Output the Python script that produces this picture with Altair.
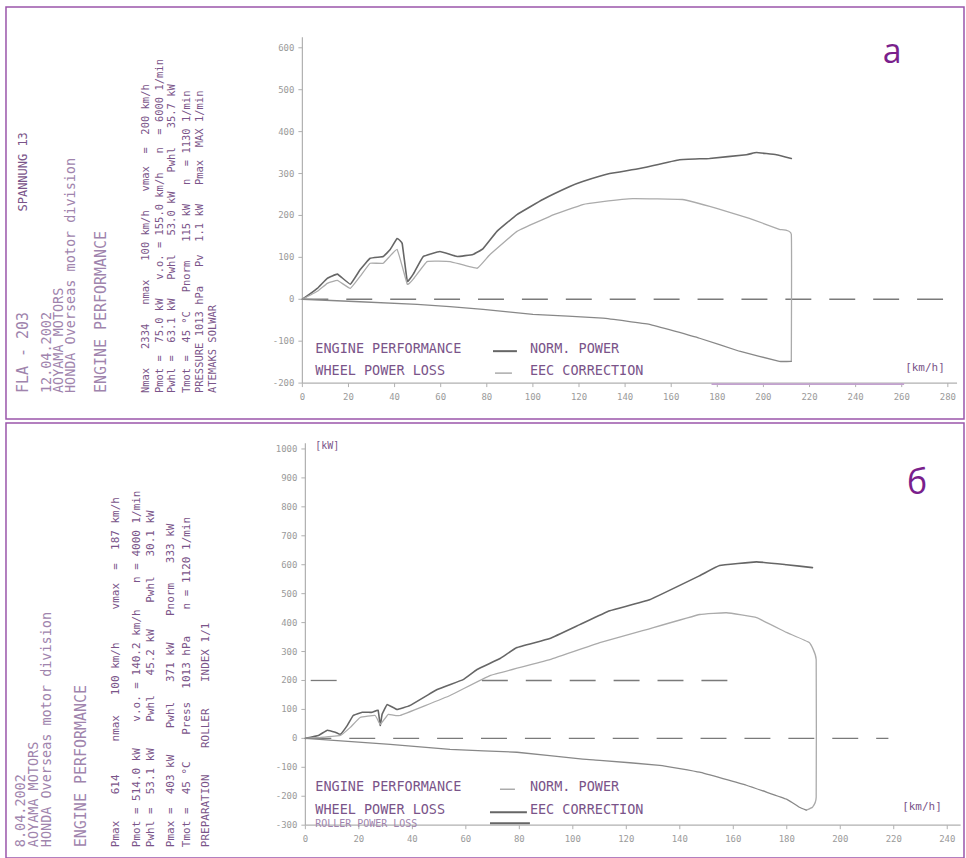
import altair as alt
import pandas as pd

# ================= DATA =================
# panel "а" (top)  -- x: speed [km/h], y: power
A_ENGINE_X = [0, 6.5, 10.8, 15.2, 20.8, 25.1, 29.4, 35.1, 38.1, 41.1, 43.3, 45.5, 48.1, 52.4, 59.7, 67.1,
              74.0, 78.4, 84.4, 93.1, 104.3, 116.0, 121.6, 133.3, 146.3, 163.6, 176.6, 192.6, 197.0, 205.6, 212.1]
A_ENGINE_Y = [0, 26, 50, 60, 36, 71, 98, 102, 119, 145, 133, 43, 60, 102, 114, 102,
              107, 121, 162, 202, 238, 269, 281, 300, 312, 333, 336, 345, 350, 345, 336]
A_WHEEL_X = [0, 6.5, 10.8, 15.2, 20.8, 25.1, 29.4, 35.1, 41.1, 45.5, 48.1, 54.1, 64.1, 75.8, 81.4, 93.1,
             107.4, 121.6, 130.3, 143.3, 164.9, 179.7, 193.9, 206.9, 212.1, 212.1]
A_WHEEL_Y = [0, 19, 38, 45, 26, 55, 86, 86, 119, 36, 48, 90, 90, 74, 107, 162,
             198, 226, 233, 240, 238, 217, 193, 167, 155, -148]
A_LOSS_X = [0, 49.8, 78.4, 100.0, 130.3, 150.6, 172.3, 189.6, 206.9, 212.1]
A_LOSS_Y = [0, -12, -24, -36, -45, -60, -93, -124, -148, -148]
A_REF_FROM = [0]
A_REF_TO = [280]
A_REF_LEVEL = [0]
A_X_TICKS = list(range(0, 281, 20))
A_Y_TICKS = list(range(-200, 601, 100))

# panel "б" (bottom)
B_ENGINE_X = [0, 4.9, 8.2, 11.2, 13.1, 15.7, 17.9, 21.3, 25.0, 27.2, 28.0, 28.7, 30.6, 34.3, 39.2,
              49.3, 59.0, 64.2, 72.8, 79.1, 91.4, 102.6, 113.8, 128.7, 147.4, 154.9, 168.7, 179.9, 189.6]
B_ENGINE_Y = [0, 10, 28, 21, 14, 45, 79, 90, 90, 97, 45, 83, 117, 100, 114,
              169, 203, 238, 276, 314, 345, 393, 441, 479, 562, 597, 610, 600, 590]
B_WHEEL_X = [0, 5.6, 13.1, 16.8, 20.5, 26.1, 28.0, 31.0, 35.4, 54.1, 69.0, 91.4, 110.1, 126.1,
             147.4, 157.5, 168.7, 179.9, 188.4, 191.0, 191.0, 189.6, 187.3]
B_WHEEL_Y = [0, 3, 10, 38, 72, 79, 48, 83, 79, 148, 217, 272, 331, 372,
             428, 434, 417, 366, 331, 272, -203, -238, -248]
B_LOSS_X = [0, 31.7, 54.1, 79.1, 103.7, 110.1, 132.5, 147.4, 164.9, 179.9, 184.7, 187.3]
B_LOSS_Y = [0, -21, -38, -48, -72, -76, -93, -117, -162, -210, -238, -248]
B_REF_FROM = [0, 2, 66]
B_REF_TO = [218, 14, 158]
B_REF_LEVEL = [0, 200, 200]
B_X_TICKS = list(range(0, 241, 20))
B_Y_TICKS = list(range(-300, 1001, 100))

# texts of the printouts
A_HEADER = ["FLA - 203", "SPANNUNG 13", "12.04.2002", "AOYAMA MOTORS",
            "HONDA Overseas motor division", "ENGINE PERFORMANCE"]
A_TABLE = ["Nmax   2334   nmax   100 km/h   vmax  =  200 km/h",
           "Pmot =  75.0 kW   v.o. = 155.0 km/h   n  = 6000 1/min",
           "Pwhl =  63.1 kW   Pwhl   53.0 kW   Pwhl   35.7 kW",
           "Tmot =  45 °C   Pnorm   115 kW   n  = 1130 1/min",
           "PRESSURE 1013 hPa   Pv  1.1 kW   Pmax  MAX 1/min",
           "ATEMAKS SOLWAR"]
B_HEADER = ["8.04.2002", "AOYAMA MOTORS", "HONDA Overseas motor division", "ENGINE PERFORMANCE"]
B_TABLE = ["Pmax    614     nmax   100 km/h     vmax  =  187 km/h",
           "Pmot = 514.0 kW    v.o. = 140.2 km/h    n = 4000 1/min",
           "Pwhl =  53.1 kW    Pwhl   45.2 kW    Pwhl   30.1 kW",
           "Pmax =  403 kW    Pwhl   371 kW    Pnorm   333 kW",
           "Tmot =  45 °C    Press  1013 hPa    n = 1120 1/min",
           "PREPARATION    ROLLER    INDEX 1/1"]
LEGEND_LEFT = ["ENGINE PERFORMANCE", "WHEEL POWER LOSS", "ROLLER POWER LOSS"]
LEGEND_RIGHT = ["NORM. POWER", "EEC CORRECTION"]
UNIT_X = "[km/h]"
UNIT_Y = "[kW]"
PANEL_LABELS = ["а", "б"]

# ================= STYLE / LAYOUT =================
PURPLE = "#9a55aa"
PURPLE_LIGHT = "#c3a2cf"
TEXT_LIGHT = "#a084ad"
TEXT_DARK = "#7a5489"
C_ENGINE = "#666666"
C_WHEEL = "#ababab"
C_LOSS = "#888888"
C_DASH = "#7a7a7a"
C_AXIS = "#b0b0b0"
C_TICKLABEL = "#9a9a9a"
MONO = "DejaVu Sans Mono"
NBSP = "\u00a0"

W = 960
LEFT = 5

PANELS = {
    "A": dict(top=5, h=413, axis_px=302, zero_py=298, ppx=2.31, ppy=0.42, x_axis_val=-200,
              y_axis_top=625, x_axis_end=284, table_size=10.5,
              engine=(A_ENGINE_X, A_ENGINE_Y), wheel=(A_WHEEL_X, A_WHEEL_Y), loss=(A_LOSS_X, A_LOSS_Y),
              ref=(A_REF_FROM, A_REF_TO, A_REF_LEVEL), xt=A_X_TICKS, yt=A_Y_TICKS),
    "B": dict(top=420, h=436, axis_px=305, zero_py=736, ppx=2.68, ppy=0.29, x_axis_val=-300,
              y_axis_top=1020, x_axis_end=245, table_size=11,
              engine=(B_ENGINE_X, B_ENGINE_Y), wheel=(B_WHEEL_X, B_WHEEL_Y), loss=(B_LOSS_X, B_LOSS_Y),
              ref=(B_REF_FROM, B_REF_TO, B_REF_LEVEL), xt=B_X_TICKS, yt=B_Y_TICKS),
}

# annotation placement (absolute page pixels)
A_ROT = [(22, 392, 0, 15, TEXT_LIGHT), (22, 210, 1, 12, TEXT_DARK), (46, 392, 2, 13.5, TEXT_LIGHT),
         (58, 392, 3, 13.5, TEXT_LIGHT), (70, 392, 4, 13.5, TEXT_LIGHT), (100, 392, 5, 15, TEXT_LIGHT)]
A_TAB_X = [145, 159, 171, 186, 199, 212]
A_TAB_Y = 392
B_ROT = [(20, 845, 0, 13.5, TEXT_LIGHT), (33, 845, 1, 13.5, TEXT_LIGHT),
         (46, 845, 2, 13.5, TEXT_LIGHT), (80, 845, 3, 15, TEXT_LIGHT)]
B_TAB_X = [115, 136, 150, 170, 186, 205]
B_TAB_Y = 845


def flat_rows(panel):
    if panel == "A":
        return [(315, 348, LEGEND_LEFT[0], 13.5, TEXT_DARK), (530, 348, LEGEND_RIGHT[0], 13.5, TEXT_DARK),
                (315, 370, LEGEND_LEFT[1], 13.5, TEXT_DARK), (530, 370, LEGEND_RIGHT[1], 13.5, TEXT_DARK),
                (906, 367, UNIT_X, 11, TEXT_DARK)]
    return [(315, 785, LEGEND_LEFT[0], 13.5, TEXT_DARK), (530, 785, LEGEND_RIGHT[0], 13.5, TEXT_DARK),
            (315, 808, LEGEND_LEFT[1], 13.5, TEXT_DARK), (530, 808, LEGEND_RIGHT[1], 13.5, TEXT_DARK),
            (315, 822, LEGEND_LEFT[2], 10, TEXT_LIGHT), (903, 805, UNIT_X, 11, TEXT_DARK),
            (315, 443, UNIT_Y, 10, TEXT_DARK)]


def swatch_rows(panel):
    if panel == "A":
        return [(493, 517, 350, C_ENGINE, 2.0), (495, 512, 372, C_WHEEL, 1.5), (712, 905, 383, PURPLE_LIGHT, 1.6)]
    return [(500, 515, 787, C_WHEEL, 1.5), (490, 527, 810, C_ENGINE, 2.0), (490, 530, 821, C_ENGINE, 2.0)]


LABEL_POS = {"A": (893, 61), "B": (918, 491)}


def keep_spaces(s):
    return s.replace(" ", NBSP)


def build_panel(key):
    p = PANELS[key]
    top, h = p["top"], p["h"]

    def ux(ax):
        return (ax - p["axis_px"]) / p["ppx"]

    def uy(ay):
        return (p["zero_py"] - ay) / p["ppy"]

    xs = alt.Scale(domain=[ux(LEFT), ux(LEFT + W)], nice=False, zero=False)
    ys = alt.Scale(domain=[uy(top + h), uy(top)], nice=False, zero=False)
    X = lambda f: alt.X(f, scale=xs, axis=None)
    Y = lambda f: alt.Y(f, scale=ys, axis=None)

    # ---------- curves ----------
    rows = []
    for name, (xv, yv), col, sw in [("engine", p["engine"], C_ENGINE, 1.6),
                                    ("wheel", p["wheel"], C_WHEEL, 1.3),
                                    ("loss", p["loss"], C_LOSS, 1.3)]:
        for i, (a, b) in enumerate(zip(xv, yv)):
            rows.append(dict(x=a, y=b, series=name, ord=i, col=col, sw=sw))
    df = pd.DataFrame(rows)
    lines = alt.Chart(df).mark_line(strokeJoin="round", strokeCap="round",
                                    interpolate="cardinal", tension=0.75).encode(
        x=X("x:Q"), y=Y("y:Q"), detail="series:N", order="ord:Q",
        color=alt.Color("col:N", scale=None), strokeWidth=alt.StrokeWidth("sw:Q", scale=None))

    # ---------- axes (lines, ticks and labels from the tick lists) ----------
    xa = p["x_axis_val"]
    axis_abs_y = p["zero_py"] - xa * p["ppy"]
    axes_df = pd.DataFrame(dict(x=[0, 0], x2=[0, p["x_axis_end"]],
                                y=[xa, xa], y2=[p["y_axis_top"], xa]))
    axes_rules = alt.Chart(axes_df).mark_rule(color=C_AXIS, strokeWidth=1.2).encode(
        x=X("x:Q"), x2="x2:Q", y=Y("y:Q"), y2="y2:Q")

    ytick_df = pd.DataFrame(dict(y=p["yt"], x=[ux(p["axis_px"] - 4)] * len(p["yt"]),
                                 x2=[0] * len(p["yt"]), lx=[ux(p["axis_px"] - 8)] * len(p["yt"]),
                                 lab=[str(v) for v in p["yt"]]))
    yticks = alt.Chart(ytick_df).mark_rule(color=C_AXIS, strokeWidth=1).encode(
        x=X("x:Q"), x2="x2:Q", y=Y("y:Q"))
    ylabels = alt.Chart(ytick_df).mark_text(align="right", baseline="middle", font=MONO, fontSize=9,
                                            color=C_TICKLABEL).encode(
        x=X("lx:Q"), y=Y("y:Q"), text="lab:N")

    xtick_df = pd.DataFrame(dict(x=p["xt"], y=[xa] * len(p["xt"]), y2=[uy(axis_abs_y + 4)] * len(p["xt"]),
                                 ly=[uy(axis_abs_y + 14)] * len(p["xt"]),
                                 lab=[str(v) for v in p["xt"]]))
    xticks = alt.Chart(xtick_df).mark_rule(color=C_AXIS, strokeWidth=1).encode(
        x=X("x:Q"), y=Y("y:Q"), y2="y2:Q")
    xlabels = alt.Chart(xtick_df).mark_text(align="center", baseline="middle", font=MONO, fontSize=9,
                                            color=C_TICKLABEL).encode(
        x=X("x:Q"), y=Y("ly:Q"), text="lab:N")

    # ---------- reference (dashed) lines ----------
    rf, rt, rl = p["ref"]
    ref_df = pd.DataFrame(dict(x=rf, x2=rt, y=rl))
    ref_rules = alt.Chart(ref_df).mark_rule(color=C_DASH, strokeWidth=1.3, strokeDash=[26, 18]).encode(
        x=X("x:Q"), x2="x2:Q", y=Y("y:Q"))

    # ---------- annotations ----------
    if key == "A":
        header, table, rot_pos, tab_x, tab_y = A_HEADER, A_TABLE, A_ROT, A_TAB_X, A_TAB_Y
    else:
        header, table, rot_pos, tab_x, tab_y = B_HEADER, B_TABLE, B_ROT, B_TAB_X, B_TAB_Y
    rot = []
    for (ax, ay, idx, sz, col) in rot_pos:
        rot.append(dict(px=ux(ax), py=uy(ay), text=keep_spaces(header[idx]), size=sz, col=col))
    for i, t in enumerate(table):
        rot.append(dict(px=ux(tab_x[i]), py=uy(tab_y), text=keep_spaces(t), size=p["table_size"],
                        col=TEXT_DARK))
    rot_df = pd.DataFrame(rot)
    rot_text = alt.Chart(rot_df).mark_text(angle=270, align="left", baseline="middle", font=MONO).encode(
        x=X("px:Q"), y=Y("py:Q"), text="text:N",
        size=alt.Size("size:Q", scale=None), color=alt.Color("col:N", scale=None))

    flat_df = pd.DataFrame([dict(px=ux(a), py=uy(b), text=keep_spaces(t), size=s, col=c)
                            for (a, b, t, s, c) in flat_rows(key)])
    flat_text = alt.Chart(flat_df).mark_text(align="left", baseline="middle", font=MONO).encode(
        x=X("px:Q"), y=Y("py:Q"), text="text:N",
        size=alt.Size("size:Q", scale=None), color=alt.Color("col:N", scale=None))

    sw_df = pd.DataFrame([dict(px=ux(a), px2=ux(b), py=uy(c), col=d, sw=e)
                          for (a, b, c, d, e) in swatch_rows(key)])
    swatches = alt.Chart(sw_df).mark_rule().encode(
        x=X("px:Q"), x2="px2:Q", y=Y("py:Q"),
        color=alt.Color("col:N", scale=None), strokeWidth=alt.StrokeWidth("sw:Q", scale=None))

    lx, ly = LABEL_POS[key]
    lab_df = pd.DataFrame([dict(px=ux(lx), py=uy(ly), text=PANEL_LABELS[0 if key == "A" else 1])])
    label = alt.Chart(lab_df).mark_text(align="center", baseline="alphabetic", font="Open Sans",
                                        fontSize=34, color="#7a1f8c").encode(
        x=X("px:Q"), y=Y("py:Q"), text="text:N")

    return alt.layer(ref_rules, axes_rules, yticks, xticks, ylabels, xlabels, lines,
                     swatches, rot_text, flat_text, label).properties(width=W, height=h)


chart = alt.vconcat(build_panel("A"), build_panel("B"), spacing=2).configure_view(
    stroke=PURPLE, strokeWidth=1.5
).properties(
    padding={"left": 5, "top": 5, "right": 1, "bottom": 1}, background="white"
)

chart.save("out.html", embed_options={"renderer": "svg", "actions": False})
